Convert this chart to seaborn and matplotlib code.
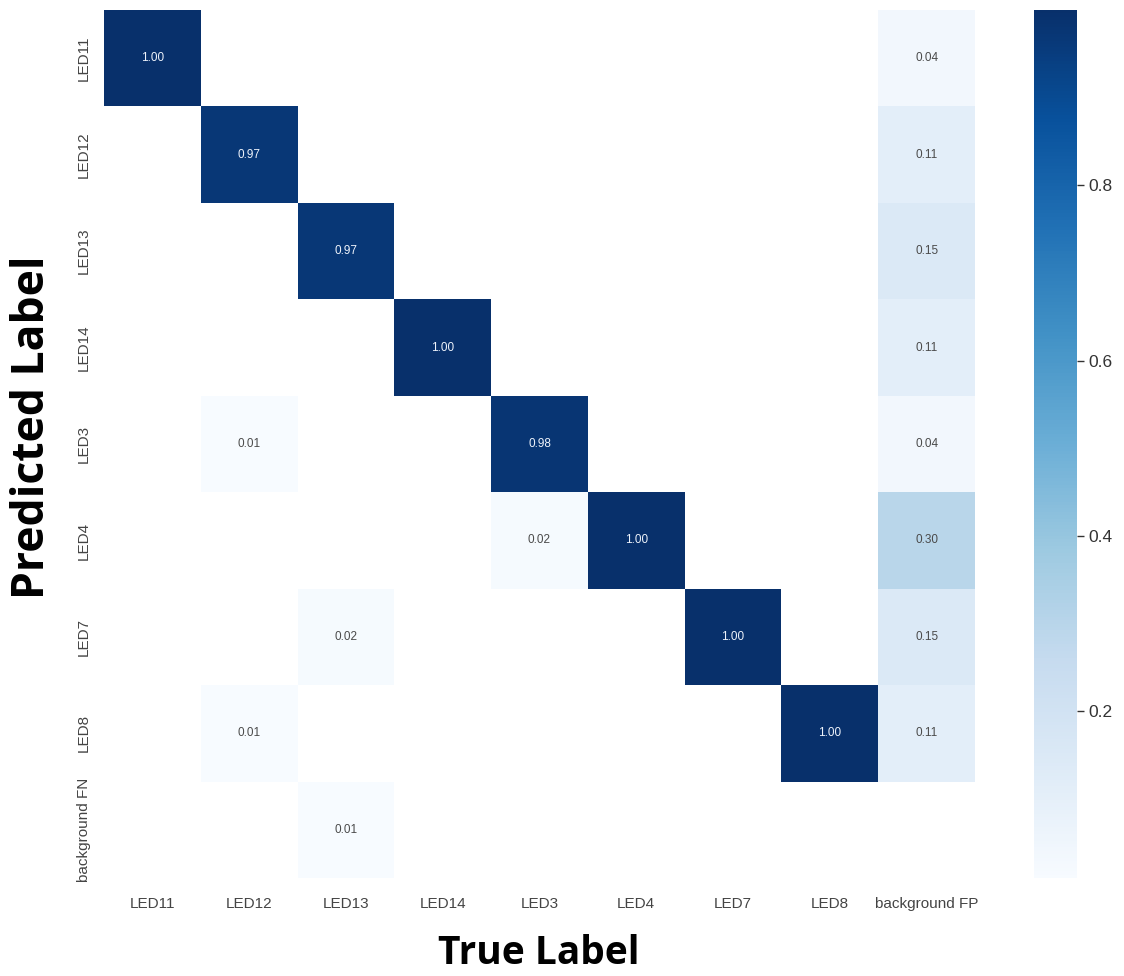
import numpy as np
import pandas as pd
import matplotlib
matplotlib.use("Agg")
import matplotlib.pyplot as plt
import seaborn as sns

true_labels = ["LED11", "LED12", "LED13", "LED14", "LED3", "LED4", "LED7", "LED8", "background FP"]
pred_labels = ["LED11", "LED12", "LED13", "LED14", "LED3", "LED4", "LED7", "LED8", "background FN"]

# normalized confusion matrix, rows = predicted, columns = true
row_led11 = [1.00, 0.00, 0.00, 0.00, 0.00, 0.00, 0.00, 0.00, 0.04]
row_led12 = [0.00, 0.97, 0.00, 0.00, 0.00, 0.00, 0.00, 0.00, 0.11]
row_led13 = [0.00, 0.00, 0.97, 0.00, 0.00, 0.00, 0.00, 0.00, 0.15]
row_led14 = [0.00, 0.00, 0.00, 1.00, 0.00, 0.00, 0.00, 0.00, 0.11]
row_led3 = [0.00, 0.01, 0.00, 0.00, 0.98, 0.00, 0.00, 0.00, 0.04]
row_led4 = [0.00, 0.00, 0.00, 0.00, 0.02, 1.00, 0.00, 0.00, 0.30]
row_led7 = [0.00, 0.00, 0.02, 0.00, 0.00, 0.00, 1.00, 0.00, 0.15]
row_led8 = [0.00, 0.01, 0.00, 0.00, 0.00, 0.00, 0.00, 1.00, 0.11]
row_bg_fn = [0.00, 0.00, 0.01, 0.00, 0.00, 0.00, 0.00, 0.00, 0.00]

matrix = np.array([row_led11, row_led12, row_led13, row_led14, row_led3,
                   row_led4, row_led7, row_led8, row_bg_fn], dtype=float)
matrix[matrix < 0.005] = np.nan
df = pd.DataFrame(matrix, index=pred_labels, columns=true_labels)

sns.set_theme(style="darkgrid", font_scale=1.0)
plt.rcParams["font.family"] = ["Liberation Sans", "DejaVu Sans"]

fig = plt.figure(figsize=(11.24, 9.76), dpi=100)
ax = fig.add_axes([104 / 1124, 1 - 878 / 976, 871 / 1124, 868 / 976])
cax = fig.add_axes([1034 / 1124, 1 - 878 / 976, 43 / 1124, 868 / 976])

sns.heatmap(df, ax=ax, cbar_ax=cax, annot=True, fmt=".2f", cmap="Blues",
            annot_kws={"size": 8.5}, square=False,
            xticklabels=true_labels, yticklabels=pred_labels)
ax.set_facecolor((1, 1, 1))
ax.set_xlabel("")
ax.set_ylabel("")
ax.tick_params(axis="both", labelsize=11, colors="#444444")
ax.tick_params(axis="x", pad=8)
cax.tick_params(labelsize=12.5, length=5, width=1, colors="#333333")
cax.set_yticks([0.2, 0.4, 0.6, 0.8])

# soften annotation colours: grey on light cells, pale on dark cells
for t in ax.texts:
    val = float(t.get_text())
    t.set_color("#eef3fb" if val > 0.5 else "#4a4a4a")

fig.text(539 / 1124, 1 - 954 / 976, "True Label", ha="center", va="center",
         fontsize=28, fontweight="bold", color="black",
         family=["Open Sans", "DejaVu Sans"])
fig.text(33 / 1124, 1 - 427 / 976, "Predicted Label", ha="center", va="center",
         rotation=90, fontsize=32, fontweight="bold", color="black",
         family=["Open Sans", "DejaVu Sans"])

fig.savefig("out.png", dpi=100, facecolor="white")
